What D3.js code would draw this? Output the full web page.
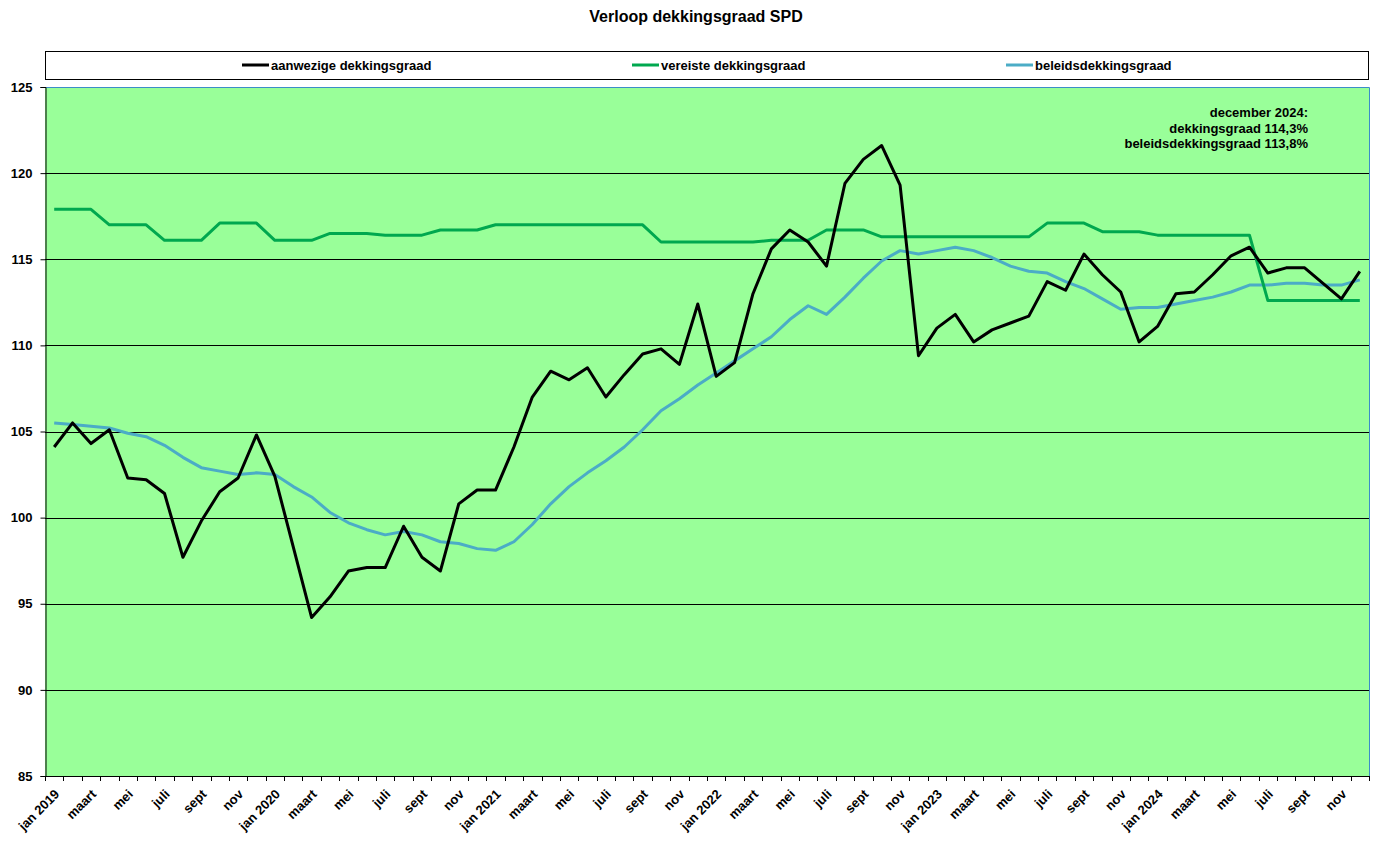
<!DOCTYPE html>
<html>
<head>
<meta charset="utf-8">
<title>Verloop dekkingsgraad SPD</title>
<script src="https://cdn.jsdelivr.net/npm/d3@7"></script>
<style>
body { margin: 0; background: #fff; }
text { font-family: Arial, "Liberation Sans", sans-serif; font-weight: bold; fill: #000; }
</style>
</head>
<body>
<script>
// months jan 2019 .. dec 2024
var monthNames = ["jan", "feb", "maart", "apr", "mei", "juni", "juli", "aug", "sept", "okt", "nov", "dec"];
var years = [2019, 2020, 2021, 2022, 2023, 2024];

var aanwezig = [
  104.1, 105.5, 104.3, 105.1, 102.3, 102.2, 101.4, 97.7, 99.8, 101.5, 102.3, 104.8,
  102.4, 98.3, 94.2, 95.4, 96.9, 97.1, 97.1, 99.5, 97.7, 96.9, 100.8, 101.6,
  101.6, 104.1, 107.0, 108.5, 108.0, 108.7, 107.0, 108.3, 109.5, 109.8, 108.9, 112.4,
  108.2, 109.0, 113.0, 115.6, 116.7, 116.0, 114.6, 119.4, 120.8, 121.6, 119.3, 109.4,
  111.0, 111.8, 110.2, 110.9, 111.3, 111.7, 113.7, 113.2, 115.3, 114.1, 113.1, 110.2,
  111.1, 113.0, 113.1, 114.1, 115.2, 115.7, 114.2, 114.5, 114.5, 113.6, 112.7, 114.3
];
var vereist = [
  117.9, 117.9, 117.9, 117.0, 117.0, 117.0, 116.1, 116.1, 116.1, 117.1, 117.1, 117.1,
  116.1, 116.1, 116.1, 116.5, 116.5, 116.5, 116.4, 116.4, 116.4, 116.7, 116.7, 116.7,
  117.0, 117.0, 117.0, 117.0, 117.0, 117.0, 117.0, 117.0, 117.0, 116.0, 116.0, 116.0,
  116.0, 116.0, 116.0, 116.1, 116.1, 116.1, 116.7, 116.7, 116.7, 116.3, 116.3, 116.3,
  116.3, 116.3, 116.3, 116.3, 116.3, 116.3, 117.1, 117.1, 117.1, 116.6, 116.6, 116.6,
  116.4, 116.4, 116.4, 116.4, 116.4, 116.4, 112.6, 112.6, 112.6, 112.6, 112.6, 112.6
];
var beleid = [
  105.5, 105.4, 105.3, 105.2, 104.9, 104.7, 104.2, 103.5, 102.9, 102.7, 102.5, 102.6,
  102.5, 101.8, 101.2, 100.3, 99.7, 99.3, 99.0, 99.2, 99.0, 98.6, 98.5, 98.2,
  98.1, 98.6, 99.6, 100.8, 101.8, 102.6, 103.3, 104.1, 105.1, 106.2, 106.9, 107.7,
  108.4, 109.1, 109.8, 110.5, 111.5, 112.3, 111.8, 112.8, 113.9, 114.9, 115.5, 115.3,
  115.5, 115.7, 115.5, 115.1, 114.6, 114.3, 114.2, 113.7, 113.3, 112.7, 112.1, 112.2,
  112.2, 112.4, 112.6, 112.8, 113.1, 113.5, 113.5, 113.6, 113.6, 113.5, 113.5, 113.8
];
var yTicks = [85, 90, 95, 100, 105, 110, 115, 120, 125];
var noteLines = ["december 2024:", "dekkingsgraad 114,3%", "beleidsdekkingsgraad 113,8%"];

var series = [
  { name: "aanwezige dekkingsgraad", values: aanwezig, color: "#000000" },
  { name: "vereiste dekkingsgraad", values: vereist, color: "#00A84F" },
  { name: "beleidsdekkingsgraad", values: beleid, color: "#4BACC6" }
];

var months = [];
years.forEach(function(yr) {
  monthNames.forEach(function(m, j) { months.push({ key: yr + "-" + j, label: j == 0 ? m + " " + yr : m, show: j % 2 == 0 }); });
});

var W = 1388, H = 847;
var pLeft = 45, pRight = 1369, pTop = 87, pBottom = 776;

var svg = d3.select("body").append("svg").attr("width", W).attr("height", H);

var x = d3.scaleBand().domain(months.map(function(d) { return d.key; })).range([pLeft, pRight]);
var y = d3.scaleLinear().domain([85, 125]).range([pBottom, pTop]);

// title
svg.append("text").attr("x", 696).attr("y", 22).attr("text-anchor", "middle")
  .style("font-size", "16px").text("Verloop dekkingsgraad SPD");

// legend box
svg.append("rect").attr("x", 45.5).attr("y", 51.5).attr("width", 1323).attr("height", 28)
  .attr("fill", "#fff").attr("stroke", "#000").attr("stroke-width", 1);
var legendX = [242, 632, 1006];
series.forEach(function(s, i) {
  var g = svg.append("g").attr("transform", "translate(" + legendX[i] + ",65)");
  g.append("line").attr("x1", 0).attr("x2", 27).attr("y1", 0).attr("y2", 0)
    .attr("stroke", s.color).attr("stroke-width", 3);
  g.append("text").attr("x", 29).attr("y", 5).style("font-size", "13px").text(s.name);
});

// plot area
svg.append("rect").attr("x", pLeft).attr("y", pTop).attr("width", pRight - pLeft).attr("height", pBottom - pTop)
  .attr("fill", "#99FF99");
svg.append("path").attr("d", "M" + pLeft + "," + (pTop + 0.5) + "H" + (pRight + 0.5) + "V" + pBottom)
  .attr("fill", "none").attr("stroke", "#3C8CC8").attr("stroke-width", 1);

// gridlines
svg.append("g").selectAll("line").data(yTicks.filter(function(t) { return t > 85 && t < 125; })).enter()
  .append("line").attr("x1", pLeft).attr("x2", pRight)
  .attr("y1", function(d) { return Math.round(y(d)) + 0.5; }).attr("y2", function(d) { return Math.round(y(d)) + 0.5; })
  .attr("stroke", "#000").attr("stroke-width", 1);

// y axis
var yAxis = svg.append("g").attr("transform", "translate(" + (pLeft + 0.5) + ",0)")
  .call(d3.axisLeft(y).tickValues(yTicks).tickSize(5).tickPadding(8));
yAxis.selectAll("text").style("font-size", "13px").style("font-family", "Arial, 'Liberation Sans', sans-serif").style("font-weight", "bold");
yAxis.select(".domain").attr("stroke", "#000");

// x axis: ticks at month boundaries
var bounds = d3.range(months.length + 1).map(function(i) { return pLeft + i * x.bandwidth(); });
var xg = svg.append("g");
xg.append("line").attr("x1", pLeft).attr("x2", pRight + 1).attr("y1", pBottom + 0.5).attr("y2", pBottom + 0.5).attr("stroke", "#000");
xg.selectAll("line.tick").data(bounds).enter().append("line").attr("class", "tick")
  .attr("x1", function(d) { return Math.round(d) + 0.5; }).attr("x2", function(d) { return Math.round(d) + 0.5; })
  .attr("y1", pBottom).attr("y2", pBottom + 5).attr("stroke", "#000");
xg.selectAll("text").data(months.filter(function(d) { return d.show; })).enter().append("text")
  .attr("transform", function(d) { return "translate(" + (x(d.key) + x.bandwidth() / 2 + 6) + "," + (pBottom + 19) + ") rotate(-45)"; })
  .attr("text-anchor", "end").style("font-size", "13px").text(function(d) { return d.label; });

// lines
var line = d3.line()
  .x(function(d, i) { return x(months[i].key) + x.bandwidth() / 2; })
  .y(function(d) { return y(d); });
[series[2], series[1], series[0]].forEach(function(s) {
  svg.append("path").datum(s.values).attr("d", line)
    .attr("fill", "none").attr("stroke", s.color).attr("stroke-width", 3).attr("stroke-linejoin", "round");
});

// note
svg.append("g").selectAll("text").data(noteLines).enter().append("text")
  .attr("x", 1308).attr("y", function(d, i) { return 117 + i * 15.5; })
  .attr("text-anchor", "end").style("font-size", "13px").text(function(d) { return d; });
</script>
</body>
</html>
